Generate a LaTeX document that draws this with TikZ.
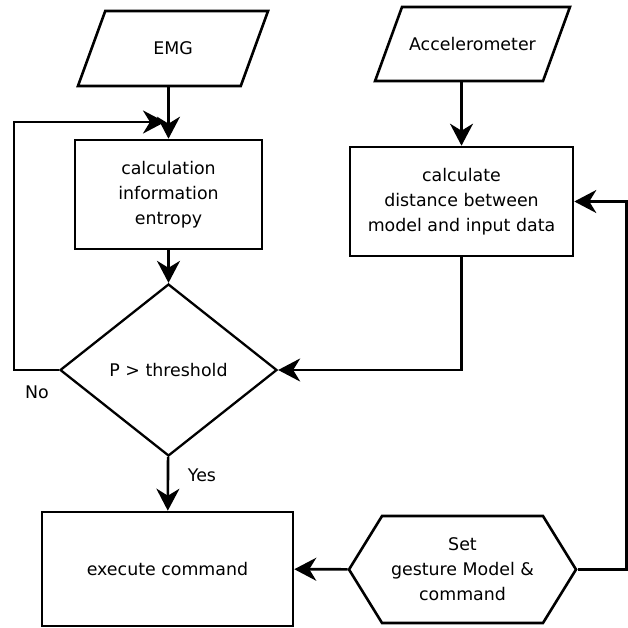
\documentclass[tikz,border=0pt]{standalone}
\usepackage{fontspec}
\setmainfont{DejaVu Sans}
\usepackage{tikz}
\usetikzlibrary{shapes}
\usetikzlibrary{arrows.meta,shapes.geometric,shapes.symbols,positioning}
\tikzset{box node/.style={rectangle, draw=black, line width=2.6pt,
    align=center, inner sep=2pt, font=\fontsize{17.4}{25}\selectfont}}
% parallelogram: height and body width set through the text box
\tikzset{data node/.style={box node, trapezium, trapezium left angle=70,
    trapezium right angle=110, text height=12.5pt, text depth=0pt,
    inner ysep=31.25pt, text width=#1}}
\tikzset{test node/.style={box node, diamond, line width=2.3pt}}
\tikzset{prep node/.style={box node, signal, signal to=east and west,
    signal pointer angle=116.6}}
\tikzset{flow edge/.style={draw=black, line width=2.6pt,
    -{Stealth[length=22pt,width=23pt,inset=7pt]}}}
\tikzset{label node/.style={font=\fontsize{17.4}{25}\selectfont}}

\begin{document}
\begin{tikzpicture}
      [x=1pt, y=-1pt]
      \useasboundingbox (0,0) rectangle (627,628);
      \node [data node=131.5pt]                                (emg)      at (173.0, 48.5) {EMG};
      \node [box node,  minimum width=187, minimum height=109] (entropy)  at (168.5,194.5) {calculation\\information\\entropy};
      \node [test node, minimum width=217, minimum height=172] (decide)   at (168.5,370.0) {P > threshold};
      \node [box node,  minimum width=251, minimum height=114] (execute)  at (167.5,569.0) {execute command};
      \node [data node=137pt, inner ysep=30.75pt]              (accel)    at (472.5, 44.0) {Accelerometer};
      \node [box node,  minimum width=223, minimum height=109] (distance) at (461.5,201.5) {calculate\\distance between\\model and input data};
      \node [prep node, minimum width=227, minimum height=107] (setmodel) at (462.5,569.5) {Set\\gesture Model \&\\command};
      \node [label node] (no)  at ( 37,392) {No};
      \node [label node] (yes) at (202,475) {Yes};
      \coordinate (join) at (165,122);

      \draw [flow edge] (entropy.north |- emg.south) to (entropy.north);
      \draw [flow edge] (entropy) to (decide);
      \draw [flow edge] (decide.west) -- ++(-45,0) |- (join);
      \draw [flow edge] (decide) to (execute);
      \draw [flow edge] (distance.north |- accel.south) to (distance.north);
      \draw [flow edge] (distance.south) |- (decide.east);
      \draw [flow edge] (setmodel.east) -- ++(49,0) |- (distance.east);
      \draw [flow edge] (setmodel) to (execute);
    \end{tikzpicture}
\end{document}
